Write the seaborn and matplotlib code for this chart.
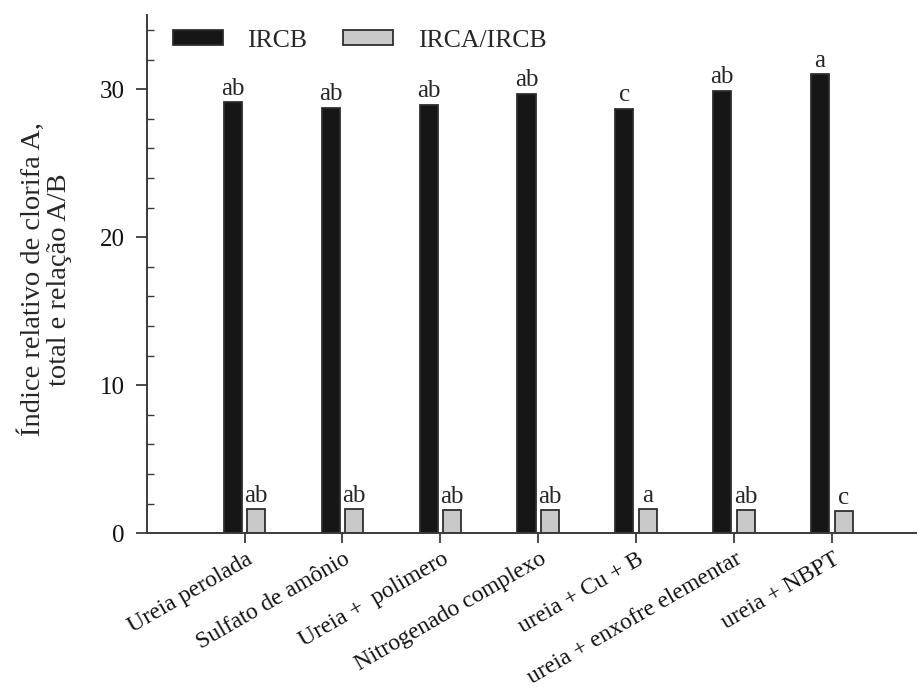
import matplotlib
matplotlib.use("Agg")
import matplotlib.pyplot as plt
import matplotlib.transforms as mtransforms
import numpy as np
import pandas as pd
import seaborn as sns

# Treatments (nitrogen sources)
tratamentos = [
    "Ureia perolada",
    "Sulfato de amônio",
    "Ureia +  polimero",
    "Nitrogenado complexo",
    "ureia + Cu + B",
    "ureia + enxofre elementar",
    "ureia + NBPT",
]

# Relative chlorophyll index (total) and A/B ratio
ircb = [29.1, 28.75, 28.95, 29.7, 28.65, 29.9, 31.0]
irca_ircb = [1.65, 1.65, 1.58, 1.58, 1.65, 1.58, 1.52]

# Mean-comparison letters
letras_ircb = ["ab", "ab", "ab", "ab", "c", "ab", "a"]
letras_razao = ["ab", "ab", "ab", "ab", "a", "ab", "c"]

series = ["IRCB", "IRCA/IRCB"]

df = pd.DataFrame({
    "tratamento": tratamentos * 2,
    "valor": ircb + irca_ircb,
    "serie": [series[0]] * len(tratamentos) + [series[1]] * len(tratamentos),
})

sns.set_theme(style="ticks")
plt.rcParams["font.family"] = ["Liberation Serif", "DejaVu Serif"]
plt.rcParams["axes.edgecolor"] = "#3a3a3a"
plt.rcParams["xtick.color"] = "#3a3a3a"
plt.rcParams["ytick.color"] = "#3a3a3a"
plt.rcParams["xtick.labelcolor"] = "#111111"
plt.rcParams["ytick.labelcolor"] = "#111111"

fig = plt.figure(figsize=(9.17, 6.87), dpi=100)
ax = fig.add_axes([0.160, 0.224, 0.840, 0.754])

sns.barplot(
    data=df, x="tratamento", y="valor", hue="serie",
    palette=["#161616", "#c8c8c8"], width=0.48, gap=0.23,
    edgecolor="#2e2e2e", linewidth=1.3, ax=ax, legend=True,
)

ax.set_ylim(0, 35)
ax.set_xlim(-1, 6.87)
ax.set_yticks([0, 10, 20, 30])
ax.set_yticks(np.arange(2, 35, 2), minor=True)
ax.tick_params(axis="y", which="major", direction="out", length=8, width=1.3,
               labelsize=18, pad=8)
ax.tick_params(axis="y", which="minor", direction="in", length=5, width=1.0)
ax.tick_params(axis="x", which="major", direction="out", length=7, width=1.3,
               labelsize=17, pad=4)
for s in ["top", "right"]:
    ax.spines[s].set_visible(False)
for s in ["left", "bottom"]:
    ax.spines[s].set_linewidth(1.4)

ax.set_xlabel("")
ax.set_ylabel("Índice relativo de clorifa A,\ntotal e relação A/B", fontsize=20.5,
              linespacing=1.05)
ax.yaxis.set_label_coords(-0.097, 0.49)

offset = mtransforms.ScaledTranslation(1 / 100, 0, fig.dpi_scale_trans)
for lab in ax.get_xticklabels():
    lab.set_rotation(30)
    lab.set_ha("right")
    lab.set_va("top")
    lab.set_rotation_mode("anchor")
    lab.set_transform(lab.get_transform() + offset)

# Letters above the bars
ax.bar_label(ax.containers[0], labels=letras_ircb, padding=2, fontsize=18)
ax.bar_label(ax.containers[1], labels=letras_razao, padding=1, fontsize=18)

ax.legend(
    loc="upper left", bbox_to_anchor=(0.034, 0.972), ncol=2, frameon=False,
    fontsize=18.5, handlelength=1.95, handleheight=0.55, handletextpad=0.95,
    columnspacing=1.4, borderaxespad=0, borderpad=0,
)

fig.savefig("out.png", dpi=100, facecolor="white")
